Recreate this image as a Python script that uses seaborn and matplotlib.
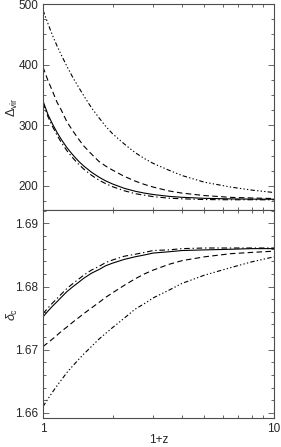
import numpy as np
import pandas as pd
import matplotlib
matplotlib.use("Agg")
import matplotlib.pyplot as plt
import matplotlib.ticker as mticker
import seaborn as sns

# 1+z sample points
one_plus_z = [1.0, 1.05, 1.1, 1.15, 1.2, 1.27, 1.35, 1.43, 1.5, 1.62, 1.75, 1.87,
              2.0, 2.25, 2.5, 2.75, 3.0, 3.5, 4.0, 5.0, 6.5, 8.0, 10.0]

# top panel: Delta_vir
dvir_solid = [340, 317.9, 301.8, 288.2, 276.6, 262.9, 250.5, 240.2, 232.8, 222.6, 214.2, 208.1,
              203.1, 195.9, 191.2, 188.0, 185.7, 182.7, 181.1, 179.4, 178.5, 178.1, 177.9]
dvir_dashed = [396, 374, 356, 338, 325, 305.5, 290, 276.5, 266, 252.6, 240, 232.5,
               226, 215.6, 208, 202.3, 198, 191.7, 188, 184, 181, 180, 179]
dvir_dashdot = [337, 314.4, 297.8, 283.7, 271.6, 257.9, 245.5, 235.2, 227.8, 217.6, 209.2, 203.6,
                198.6, 191.9, 187.2, 184.5, 182.2, 179.7, 178.6, 177.4, 177.0, 177.1, 176.9]
dvir_dash3dot = [490, 468, 448, 431, 416, 397, 378, 362, 349, 329, 312, 298,
                 286, 269, 255, 245, 237, 226, 217, 206, 198, 193, 189]

# bottom panel: delta_c
dc_solid = [1.6752, 1.6761, 1.6769, 1.6776, 1.6783, 1.6792, 1.6800, 1.6807, 1.6813, 1.6821,
            1.6827, 1.6833, 1.6837, 1.6843, 1.6847, 1.6850, 1.6853, 1.6855, 1.6857, 1.6858,
            1.6859, 1.6860, 1.6860]
dc_dashed = [1.6705, 1.6711, 1.6717, 1.6723, 1.6729, 1.6736, 1.6744, 1.6751, 1.6757, 1.6766,
             1.6775, 1.6783, 1.6790, 1.6802, 1.6812, 1.6820, 1.6826, 1.6835, 1.6841, 1.6847,
             1.6852, 1.6854, 1.6856]
dc_dashdot = [1.6757, 1.6766, 1.6774, 1.6781, 1.6788, 1.6797, 1.6805, 1.6812, 1.6818, 1.6826,
              1.6832, 1.6838, 1.6842, 1.6848, 1.6851, 1.6854, 1.6857, 1.6858, 1.6860, 1.6861,
              1.6861, 1.6861, 1.6861]
dc_dash3dot = [1.6610, 1.6622, 1.6633, 1.6643, 1.6652, 1.6664, 1.6675, 1.6685, 1.6693, 1.6705,
               1.6717, 1.6726, 1.6735, 1.6750, 1.6764, 1.6773, 1.6782, 1.6794, 1.6805, 1.6818,
               1.6830, 1.6839, 1.6847]

models = ["solid", "dashed", "dashdot", "dash3dot"]


def long_frame(series: list) -> pd.DataFrame:
    rows = []
    for name, vals in zip(models, series):
        for x, v in zip(one_plus_z, vals):
            rows.append({"x": x, "val": v, "model": name})
    return pd.DataFrame(rows)


top_df = long_frame([dvir_solid, dvir_dashed, dvir_dashdot, dvir_dash3dot])
bot_df = long_frame([dc_solid, dc_dashed, dc_dashdot, dc_dash3dot])

sns.set_style("ticks")
plt.rcParams['font.family'] = ['Liberation Sans', 'DejaVu Sans']
plt.rcParams['mathtext.fontset'] = 'custom'
plt.rcParams['mathtext.rm'] = 'Liberation Sans'
plt.rcParams['mathtext.it'] = 'Liberation Sans:italic'

dash_map = {
    "solid": "",
    "dashed": (5, 3),
    "dashdot": (5, 2.5, 1.2, 2.5),
    "dash3dot": (4, 2, 1.2, 2, 1.2, 2, 1.2, 2),
}

fig = plt.figure(figsize=(2.81, 4.47), dpi=100)
ax_top = fig.add_axes([0.153, 0.530, 0.822, 0.461])
ax_bot = fig.add_axes([0.153, 0.065, 0.822, 0.465])

for ax, df in [(ax_top, top_df), (ax_bot, bot_df)]:
    sns.lineplot(data=df, x="x", y="val", style="model", dashes=dash_map,
                 color="black", linewidth=0.8, legend=False, estimator=None,
                 sort=False, ax=ax)
    ax.set_xscale("log")
    ax.set_xlim(1, 10)
    ax.tick_params(which="both", direction="in", top=True, right=True,
                   labelsize=8.5, color="0.3", width=0.6)
    ax.tick_params(which="major", length=4)
    ax.tick_params(which="minor", length=2.2)
    for sp in ax.spines.values():
        sp.set_color("0.3")
        sp.set_linewidth(0.8)
    ax.xaxis.set_minor_formatter(mticker.NullFormatter())
    ax.xaxis.set_major_formatter(mticker.FuncFormatter(lambda v, p: f"{v:g}"))

ax_top.set_ylim(160, 500)
ax_top.yaxis.set_major_locator(mticker.MultipleLocator(100))
ax_top.yaxis.set_minor_locator(mticker.MultipleLocator(25))
ax_top.tick_params(axis="x", labelbottom=False)
ax_top.set_xlabel("")
ax_top.set_ylabel(r"$\Delta_{\rm vir}$", fontsize=9)
ax_top.yaxis.set_label_coords(-0.10, 0.5)

ax_bot.set_ylim(1.6592, 1.6921)
ax_bot.yaxis.set_major_locator(mticker.MultipleLocator(0.01))
ax_bot.yaxis.set_minor_locator(mticker.MultipleLocator(0.002))
ax_bot.yaxis.set_major_formatter(mticker.FormatStrFormatter("%.2f"))
ax_bot.set_xlabel("1+z", fontsize=8.5)
ax_bot.xaxis.set_label_coords(0.5, -0.075)
ax_bot.set_ylabel(r"$\delta_{\rm c}$", fontsize=9)
ax_bot.yaxis.set_label_coords(-0.10, 0.5)

fig.savefig("out.png", dpi=100)
